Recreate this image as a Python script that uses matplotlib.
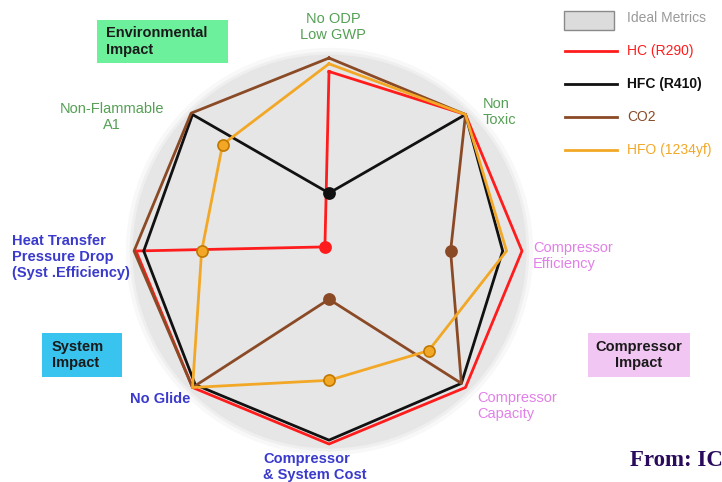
import numpy as np
import matplotlib
matplotlib.use("Agg")
import matplotlib.pyplot as plt
from matplotlib.lines import Line2D
from matplotlib.patches import Rectangle

plt.rcParams['font.family'] = ['Liberation Sans', 'DejaVu Sans']

# radar axes, clockwise from the top
axes_labels = ["No ODP\nLow GWP", "Non\nToxic", "Compressor\nEfficiency",
               "Compressor\nCapacity", "Compressor\n& System Cost", "No Glide",
               "Heat Transfer\nPressure Drop\n(Syst .Efficiency)",
               "Non-Flammable\nA1"]

series_names = ["HC (R290)", "HFC (R410)", "CO2", "HFO (1234yf)"]
series_colors = ["#ff1c1c", "#111111", "#8b4a26", "#f2a826"]

hc_r290 = [0.93, 1.00, 1.00, 1.00, 1.00, 1.00, 1.00, 0.03]
hfc_r410 = [0.30, 1.00, 0.90, 0.97, 0.98, 0.98, 0.96, 1.00]
co2 = [1.00, 1.00, 0.63, 0.97, 0.25, 1.00, 1.01, 1.01]
hfo_1234yf = [0.97, 1.00, 0.92, 0.73, 0.67, 1.00, 0.66, 0.78]

ideal_radius = 1.02

W, H = 722, 482
fig = plt.figure(figsize=(W / 100, H / 100), dpi=100)

# polar axes centred at pixel (329, 251), unit radius = 193 px
cx, cy, unit = 329, 251, 193
rmax = 1.06
half = rmax * unit
ax = fig.add_axes([(cx - half) / W, (H - cy - half) / H, 2 * half / W, 2 * half / H],
                  projection='polar')
ax.set_theta_offset(np.pi / 2)
ax.set_theta_direction(-1)
ax.set_ylim(0, rmax)
ax.axis('off')

n = len(axes_labels)
theta = np.linspace(0, 2 * np.pi, n, endpoint=False)
theta_c = np.append(theta, theta[0])

# grey "ideal" disc with a soft rim
tt = np.linspace(0, 2 * np.pi, 300)
for k, a in [(ideal_radius + 0.035, 0.25), (ideal_radius + 0.015, 0.45),
             (ideal_radius, 1.0)]:
    ax.fill_between(tt, 0, k, color="#e6e6e6", alpha=a, lw=0, zorder=0)

data = [hc_r290, hfc_r410, co2, hfo_1234yf]
order = [1, 2, 3, 0]
for i in order:
    vals = np.array(data[i])
    col = series_colors[i]
    ax.plot(theta_c, np.append(vals, vals[0]), color=col, lw=2.0, zorder=3 + i)
    low = vals < 0.85
    edge = "#c07800" if i == 3 else col
    ax.plot(theta[low], vals[low], 'o', ms=8, color=col, mec=edge, mew=1.2,
            zorder=10)

# axis labels
green = "#55a055"
pink = "#e280e8"
blue = "#3a3acc"
fs = 10.5
ls = 1.2
fig.text(333 / W, 1 - 27 / H, axes_labels[0], color=green, fontsize=fs,
         ha='center', va='center', linespacing=ls)
fig.text(483 / W, 1 - 112 / H, axes_labels[1], color=green, fontsize=fs,
         ha='left', va='center', linespacing=ls)
fig.text(533 / W, 1 - 256 / H, axes_labels[2], color=pink, fontsize=fs,
         ha='left', va='center', linespacing=ls)
fig.text(477 / W, 1 - 406 / H, axes_labels[3], color=pink, fontsize=fs,
         ha='left', va='center', linespacing=ls)
fig.text(263 / W, 1 - 467 / H, axes_labels[4], color=blue, fontsize=fs,
         ha='left', va='center', linespacing=ls, fontweight='bold')
fig.text(130 / W, 1 - 399 / H, axes_labels[5], color=blue, fontsize=fs,
         ha='left', va='center', fontweight='bold')
fig.text(12 / W, 1 - 257 / H, axes_labels[6], color=blue, fontsize=fs,
         ha='left', va='center', linespacing=ls, fontweight='bold')
fig.text(112 / W, 1 - 117 / H, axes_labels[7], color=green, fontsize=fs,
         ha='center', va='center', linespacing=ls)

# group boxes
groups = [("Environmental\nImpact", 97, 20, 131, 43, "#6cf09c", 106, 'left'),
          ("System\nImpact", 42, 333, 80, 44, "#38c4ee", 52, 'left'),
          ("Compressor\nImpact", 588, 333, 102, 44, "#f2c6f2", 639, 'center')]
for txt, x0, y0, w, h, fc, tx, ha in groups:
    fig.add_artist(Rectangle((x0 / W, 1 - (y0 + h) / H), w / W, h / H,
                             transform=fig.transFigure, fc=fc, ec='none'))
    fig.text(tx / W, 1 - (y0 + h / 2) / H, txt, fontsize=fs, fontweight='bold',
             color="#1a1a1a", ha=ha, va='center', linespacing=ls)

# legend
fig.add_artist(Rectangle((564 / W, 1 - 30 / H), 50 / W, 19 / H,
                         transform=fig.transFigure, fc="#dcdcdc", ec="#8a8a8a",
                         lw=1.0))
fig.text(627 / W, 1 - 18 / H, "Ideal Metrics", color="#9a9a9a", fontsize=10,
         ha='left', va='center')
for k, (name, col) in enumerate(zip(series_names, series_colors)):
    y = 1 - (51 + k * 33) / H
    fig.add_artist(Line2D([565 / W, 617 / W], [y, y], transform=fig.transFigure,
                          color=col, lw=2.0))
    fig.text(627 / W, y, name, color=col, fontsize=10, ha='left', va='center',
             fontweight='bold' if k == 1 else 'normal')

fig.text(630 / W, 1 - 460 / H, "From: IC", family='Liberation Serif',
         fontsize=16.5, fontweight='bold', color="#2a0a5a", ha='left',
         va='center')

fig.savefig("out.png", dpi=100)
